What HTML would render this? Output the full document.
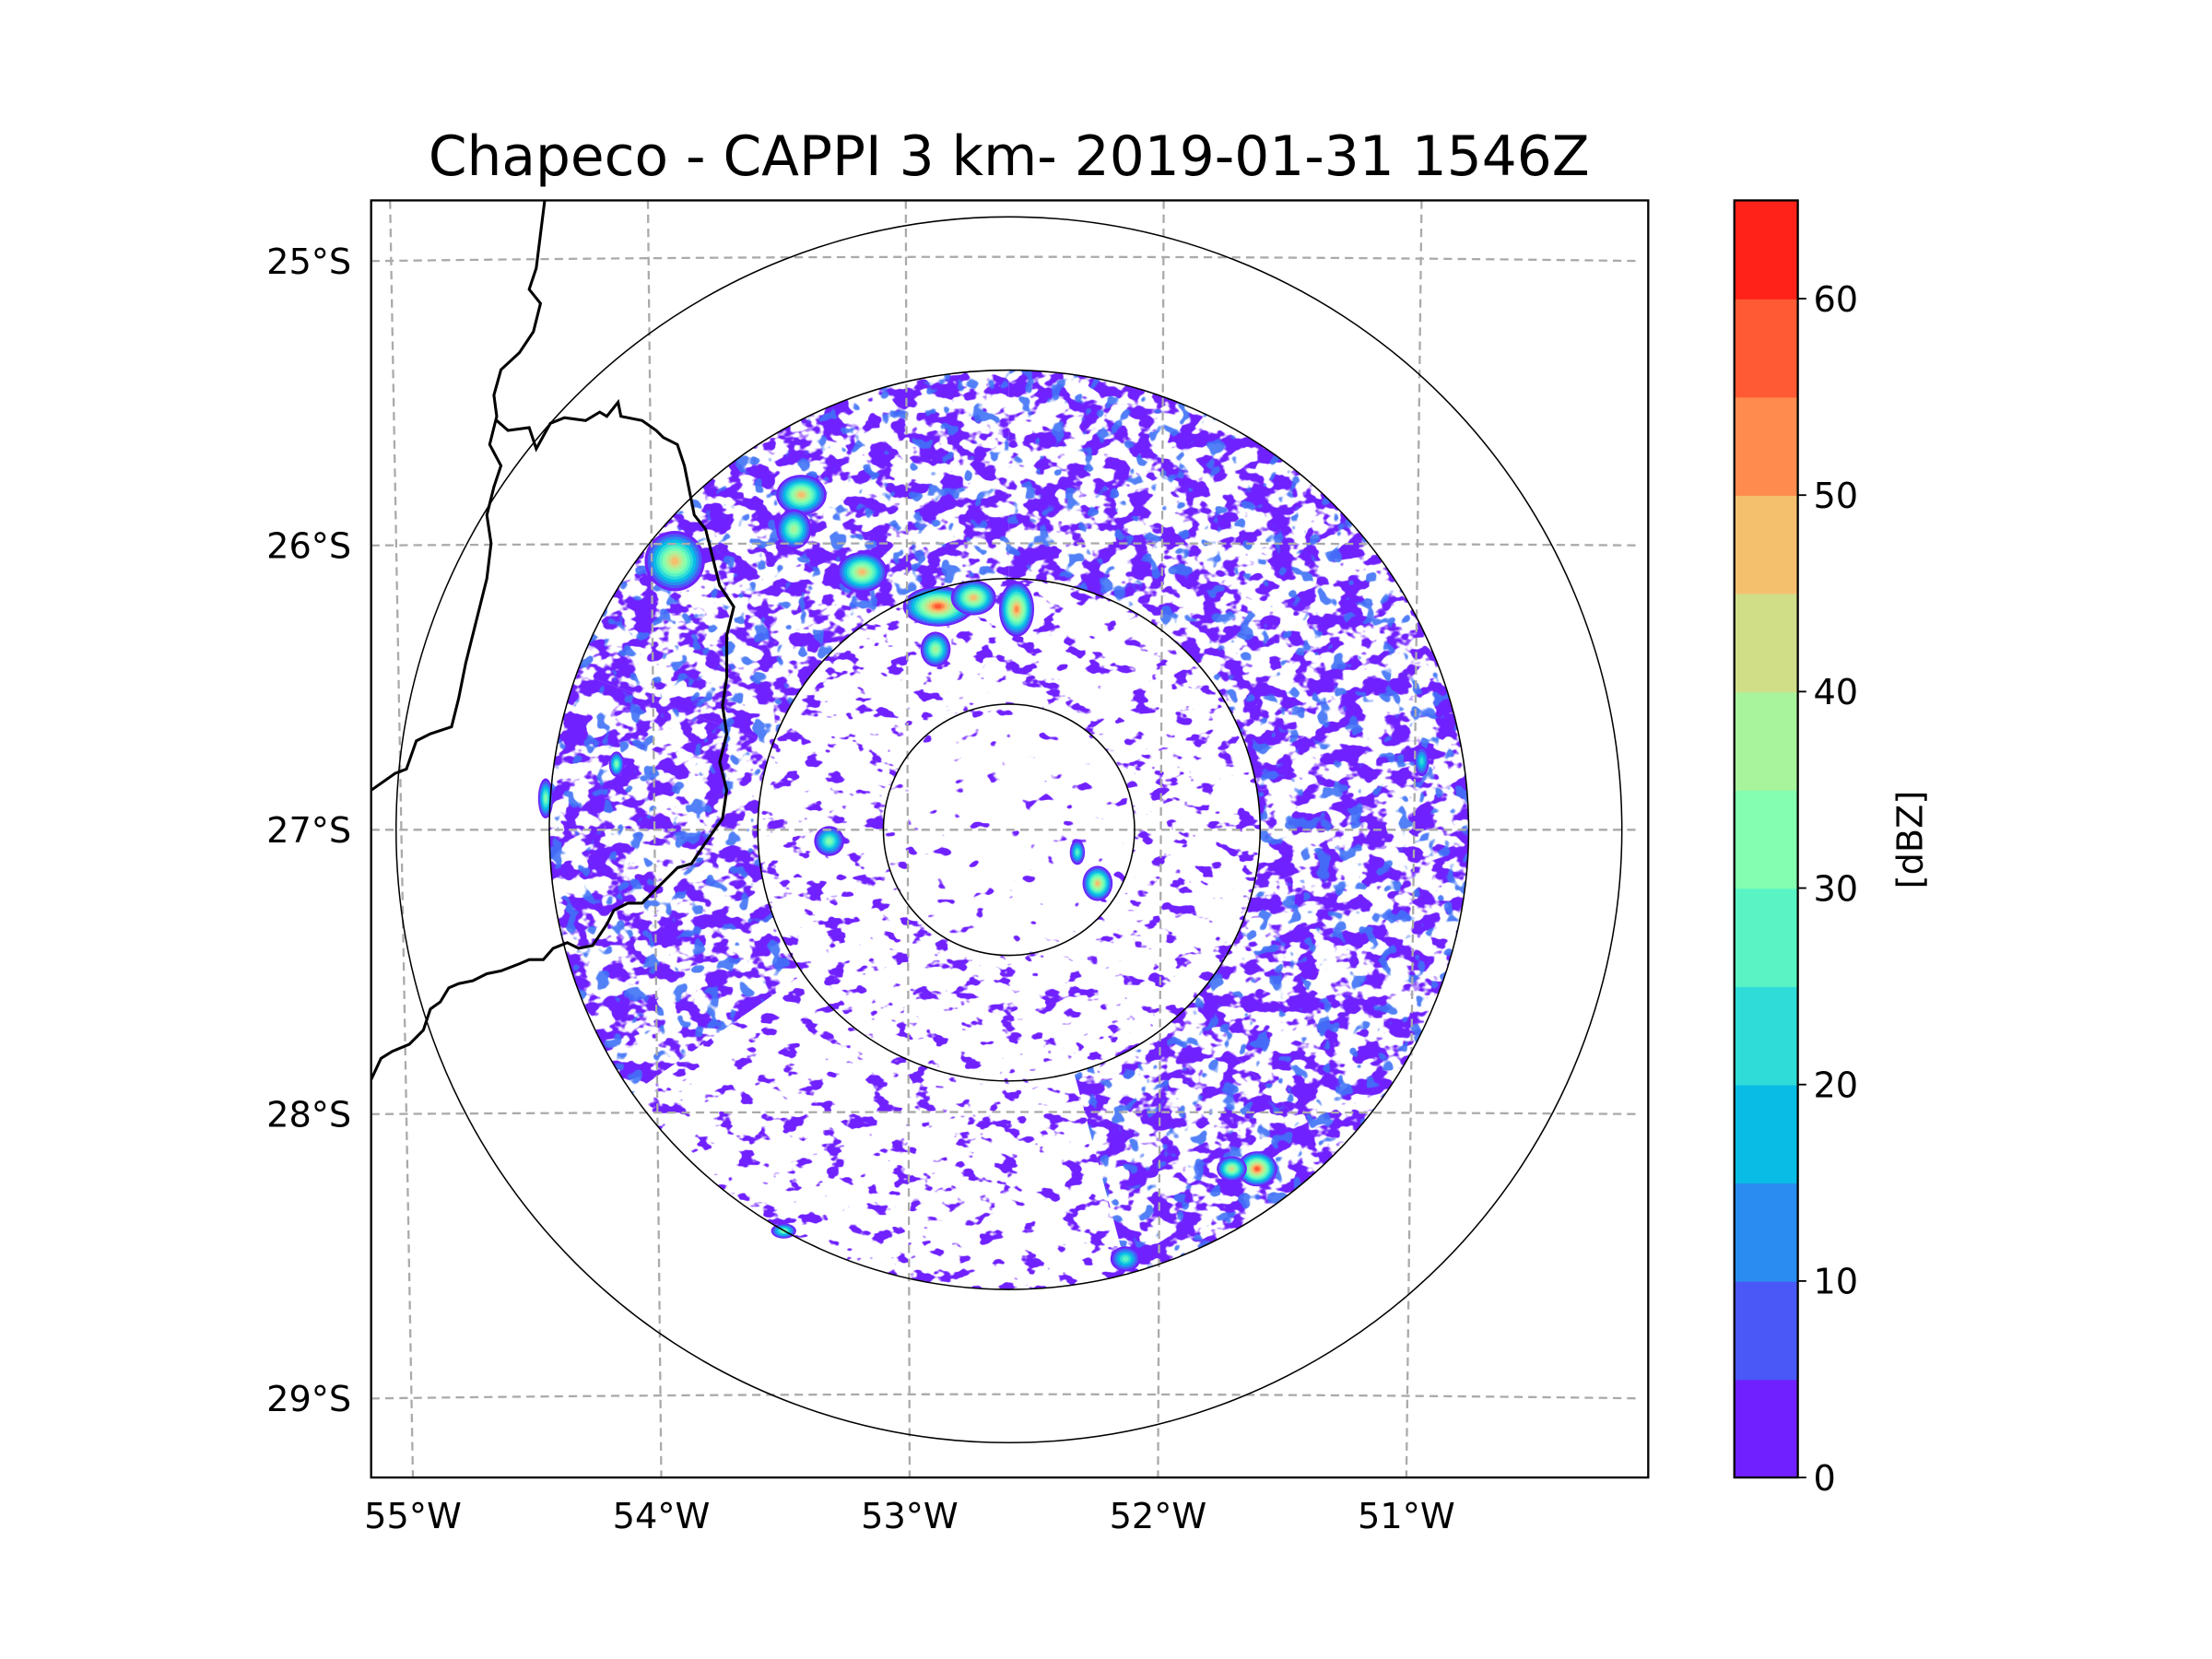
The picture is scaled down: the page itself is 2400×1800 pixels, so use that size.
<!DOCTYPE html>
<html><head><meta charset="utf-8"><title>Chapeco CAPPI</title>
<style>
html,body{margin:0;padding:0;background:#fff;}
svg{display:block;font-family:"DejaVu Sans","Liberation Sans",sans-serif;}
</style></head>
<body>
<svg id="fig" width="2400" height="1800" viewBox="0 0 1567.5 1175.6" xmlns="http://www.w3.org/2000/svg">
<defs>
  <clipPath id="axclip"><rect x="263" y="142" width="905" height="905"/></clipPath>
  <filter id="speckDense" x="263" y="142" width="905" height="905" filterUnits="userSpaceOnUse" color-interpolation-filters="sRGB">
    <feTurbulence type="fractalNoise" baseFrequency="0.06 0.085" numOctaves="3" seed="4"/>
    <feColorMatrix type="matrix" values="0 0 0 0 0.44  0 0 0 0 0.13  0 0 0 0 1  16 0 0 0 -7.9"/>
  </filter>
  <filter id="speckBlue" x="263" y="142" width="905" height="905" filterUnits="userSpaceOnUse" color-interpolation-filters="sRGB">
    <feTurbulence type="fractalNoise" baseFrequency="0.09" numOctaves="2" seed="11"/>
    <feColorMatrix type="matrix" values="0 0 0 0 0.25  0 0 0 0 0.45  0 0 0 0 0.97  0 16 0 0 -9.8"/>
  </filter>
  <filter id="speckSparse" x="263" y="142" width="905" height="905" filterUnits="userSpaceOnUse" color-interpolation-filters="sRGB">
    <feTurbulence type="fractalNoise" baseFrequency="0.065 0.1" numOctaves="3" seed="7"/>
    <feColorMatrix type="matrix" values="0 0 0 0 0.44  0 0 0 0 0.13  0 0 0 0 1  18 0 0 0 -10.9"/>
  </filter>
  <filter id="speckVery" x="263" y="142" width="905" height="905" filterUnits="userSpaceOnUse" color-interpolation-filters="sRGB">
    <feTurbulence type="fractalNoise" baseFrequency="0.08 0.11" numOctaves="2" seed="2"/>
    <feColorMatrix type="matrix" values="0 0 0 0 0.44  0 0 0 0 0.13  0 0 0 0 1  20 0 0 0 -13.8"/>
  </filter>
  <mask id="maskDense" maskUnits="userSpaceOnUse" x="0" y="0" width="1600" height="1200"><g id="mDense"></g></mask>
  <mask id="maskSparse" maskUnits="userSpaceOnUse" x="0" y="0" width="1600" height="1200"><g id="mSparse"></g></mask>
  <mask id="maskVery" maskUnits="userSpaceOnUse" x="0" y="0" width="1600" height="1200"><g id="mVery"></g></mask>
</defs>
<text x="715" y="124" font-size="39" text-anchor="middle" fill="#000">Chapeco - CAPPI 3 km- 2019-01-31 1546Z</text>
<g id="plot" clip-path="url(#axclip)">
  <g id="echoes"></g>
  <g id="cells"></g>
  <g id="grid"></g>
  <g id="rings"></g>
  <path id="coast" fill="none" stroke="#000" stroke-width="2"/>
  <path id="coast2" fill="none" stroke="#000" stroke-width="2"/>
</g>
<rect x="263" y="142" width="905" height="905" fill="none" stroke="#000" stroke-width="1.5"/>
<g id="latlabels"></g>
<g id="lonlabels"></g>
<g id="cbar"></g>
<text x="1362" y="595" font-size="25" text-anchor="middle" transform="rotate(-90 1362 595)">[dBZ]</text>
</svg>
<script>
// ---- data ----
const levels = [0,5,10,15,20,25,30,35,40,45,50,55,60,65];
const levelColors = ["#7020ff","#4a58f8","#2a8cf0","#08bce6","#30dcd8","#5af4c4","#84feb0","#a8f49c","#d0de88","#f4c06e","#ff8c4e","#ff5a34","#ff2218"];
const cbarTicks = [0,10,20,30,40,50,60];
const latTicks = [25,26,27,28,29];
const lonTicks = [55,54,53,52,51];
const ringRadiiKm = [50,100,183,244];
// echo regions: [bearingStart, bearingEnd, rInnerKm, rOuterKm]
const denseRegions = [[290,360,100,183],[0,135,100,183],[135,165,100,183],[235,290,100,183]];
const sparseRegions = [[165,235,100,183],[0,360,50,100]];
const veryRegions = [[0,360,0,50]];
// storm cells: [lon, lat, rxKm, ryKm, maxDbz]
const cells = [
 [-53.92,-26.06,12,12,45],[-53.42,-25.83,10,8,48],[-53.45,-25.95,7,8,38],[-53.18,-26.1,10,8,45],
 [-52.88,-26.22,14,8,55],[-52.74,-26.19,9,7,45],[-52.57,-26.23,7,11,52],[-52.89,-26.37,6,7,35],
 [-54.15,-26.77,3,5,30],[-54.43,-26.89,3,8,30],[-53.31,-27.04,6,6,30],[-52.25,-27.19,6,7,45],
 [-52.33,-27.08,3,5,25],[-51.62,-28.2,8,7,55],[-51.72,-28.2,6,5,40],[-52.14,-28.52,6,5,25],
 [-53.49,-28.42,5,3,30],[-50.97,-26.76,3,6,20]
];
// ---- geometry ----
const CX=715, CY=588, PXKM=1.78;
function s(y){return 182.75+(y-142)/905*(176-182.75);}
function xLon(lon,y){return CX+(lon+52.6)*s(y);}
function yLat(latS,x){const t=(x-715)/452;const d=latS-27;return 588+d*201.5-1.5*Math.abs(d)*(1-t*t);}
function km(r){return r*PXKM;}
const NS="http://www.w3.org/2000/svg";
function el(tag,attrs,parent){const e=document.createElementNS(NS,tag);for(const k in attrs)e.setAttribute(k,attrs[k]);parent.appendChild(e);return e;}
function sector(b0,b1,r0,r1){
  const R0=km(r0),R1=km(r1);
  if(b1-b0>=360){return `M${CX-R1},${CY}a${R1},${R1} 0 1,0 ${2*R1},0a${R1},${R1} 0 1,0 ${-2*R1},0Z`+(R0>0?`M${CX-R0},${CY}a${R0},${R0} 0 1,1 ${2*R0},0a${R0},${R0} 0 1,1 ${-2*R0},0Z`:"");}
  const p=(b,r)=>[CX+r*Math.sin(b*Math.PI/180),CY-r*Math.cos(b*Math.PI/180)];
  const a=p(b0,R1),b=p(b1,R1),c=p(b1,R0),d=p(b0,R0);const lg=(b1-b0)>180?1:0;
  return `M${a}A${R1},${R1} 0 ${lg},1 ${b}L${c}A${R0},${R0} 0 ${lg},0 ${d}Z`;
}
[["mDense",denseRegions],["mSparse",sparseRegions],["mVery",veryRegions]].forEach(([id,regs])=>{
  const g=document.getElementById(id);
  regs.forEach(r=>{el("path",{d:sector(...r),fill:"#fff","fill-rule":"evenodd"},g);});
});
const echoes=document.getElementById("echoes");
const eD=el("rect",{x:263,y:142,width:905,height:905,filter:"url(#speckDense)",mask:"url(#maskDense)"},echoes);


const eB=el("rect",{x:263,y:142,width:905,height:905,filter:"url(#speckBlue)",mask:"url(#maskDense)",opacity:0.9},echoes);


const eS=el("rect",{x:263,y:142,width:905,height:905,filter:"url(#speckSparse)",mask:"url(#maskSparse)"},echoes);


const eV=el("rect",{x:263,y:142,width:905,height:905,filter:"url(#speckVery)",mask:"url(#maskVery)"},echoes);


// cells
const cg=document.getElementById("cells");
function colorFor(v){let i=0;while(i<levels.length-2&&v>=levels[i+1])i++;return levelColors[i];}
cells.forEach((c,ci)=>{
  const [lon,lat,rx,ry,mx]=c;
  const x=xLon(lon,588), y=yLat(-lat,x);
  const g=el("g",{},cg);
  
  
  const steps=[];for(let v=0;v<=mx;v+=5)steps.push(v);
  steps.forEach((v,i)=>{const f=1-i/(steps.length+0.3);el("ellipse",{cx:x,cy:y,rx:km(rx)*f,ry:km(ry)*f,fill:colorFor(v)},g);});
});
// grid
const grid=document.getElementById("grid");
latTicks.forEach(la=>{let d="";for(let x=263;x<=1168;x+=15){d+=(x===263?"M":"L")+x+","+yLat(la,x);}
  const p=el("path",{d:d,fill:"none",stroke:"#aaa","stroke-width":1.5,"stroke-dasharray":"6,4"},grid);
  
  });
lonTicks.forEach(lo=>{const p=el("line",{x1:xLon(-lo,142),y1:142,x2:xLon(-lo,1047),y2:1047,stroke:"#aaa","stroke-width":1.5,"stroke-dasharray":"6,4"},grid);
  
  });
// rings
const rings=document.getElementById("rings");
ringRadiiKm.forEach(r=>{const c=el("circle",{cx:CX,cy:CY,r:km(r),fill:"none",stroke:"#000","stroke-width":1},rings);
  
  });
// borders
document.getElementById("coast").setAttribute("d","M386,142L380,190L375,205L383,215L378,235L368,250L355,262L350,280L352,295L347,315L355,330L350,345L345,365L348,385L345,410L340,430L335,450L330,470L325,495L320,515L305,520L295,525L288,545L280,548L263,560");
document.getElementById("coast2").setAttribute("d","M352,298L360,305L375,303L380,318L390,300L400,296L415,298L425,292L430,295L438,285L440,295L455,298L465,305L470,310L480,315L485,330L490,355L492,365L500,375L505,395L510,415L520,430L515,450L515,480L512,500L515,520L510,540L515,560L512,580L505,590L498,600L490,612L480,615L475,620L465,630L455,640L445,640L435,645L430,655L420,670L410,672L402,668L392,672L385,680L375,680L368,683L355,688L345,690L335,695L325,697L318,700L312,710L305,715L300,730L290,740L278,745L270,750L263,765");
// axis labels
const ll=document.getElementById("latlabels");
latTicks.forEach(la=>{const t=el("text",{x:249,y:yLat(la,263)+9,"font-size":25,"text-anchor":"end"},ll);t.textContent=la+"°S";
  
  });
const lol=document.getElementById("lonlabels");
lonTicks.forEach(lo=>{const t=el("text",{x:xLon(-lo,1047),y:1083,"font-size":25,"text-anchor":"middle"},lol);t.textContent=lo+"°W";
  
  });
// colorbar
const cb=document.getElementById("cbar");
const cbY=v=>1047-(v-levels[0])/(levels[levels.length-1]-levels[0])*905;
for(let i=0;i<levels.length-1;i++){const r=el("rect",{x:1229,y:cbY(levels[i+1]),width:45,height:cbY(levels[i])-cbY(levels[i+1])+0.5,fill:levelColors[i]},cb);
  
  }
el("rect",{x:1229,y:142,width:45,height:905,fill:"none",stroke:"#000","stroke-width":1.5},cb);
cbarTicks.forEach(v=>{el("line",{x1:1274,x2:1280,y1:cbY(v),y2:cbY(v),stroke:"#000","stroke-width":1.2},cb);
  const t=el("text",{x:1285,y:cbY(v)+9,"font-size":25},cb);t.textContent=v;
  
  });
</script>
</body></html>
